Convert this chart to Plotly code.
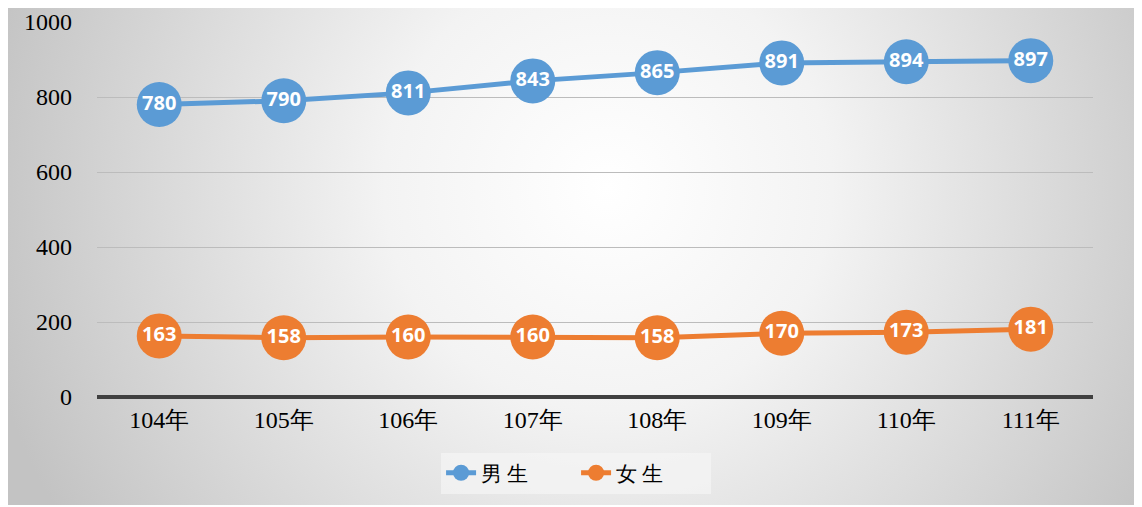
import base64
import plotly.graph_objects as go

years = ["104年", "105年", "106年", "107年", "108年", "109年", "110年", "111年"]
boys = [780, 790, 811, 843, 865, 891, 894, 897]
girls = [163, 158, 160, 160, 158, 170, 173, 181]

# page body adds an 8px offset, so the figure is a bit smaller than the window
W, H = 1134, 499
ML, MR, MT, MB = 89, 49, 14, 110
pw, ph = W - ML - MR, H - MT - MB

# radial gradient background like the office chart fill
svg = f"""<svg xmlns='http://www.w3.org/2000/svg' width='{W}' height='{H}'>
<defs><radialGradient id='g' gradientUnits='userSpaceOnUse' cx='600' cy='180' r='640'>
<stop offset='0' stop-color='#ffffff'/><stop offset='0.35' stop-color='#f3f3f3'/>
<stop offset='1' stop-color='#c3c3c3'/></radialGradient></defs>
<rect width='{W}' height='{H}' fill='url(#g)'/></svg>"""
bg = "data:image/svg+xml;base64," + base64.b64encode(svg.encode()).decode()

serif = "Liberation Serif, Times New Roman, DejaVu Serif, serif"

fig = go.Figure(layout=dict(width=W, height=H))

for name, vals, color in [("男 生", boys, "#5b9bd5"), ("女 生", girls, "#ed7d31")]:
    fig.add_trace(go.Scatter(
        x=years, y=vals, name=name,
        mode="lines+markers+text",
        line=dict(color=color, width=5),
        marker=dict(color=color, size=45, line=dict(width=0)),
        text=[str(v) for v in vals],
        textposition="middle center",
        textfont=dict(family="Open Sans", size=20, color="white", weight="bold"),
        cliponaxis=False,
    ))

fig.add_layout_image(dict(
    source=bg, xref="paper", yref="paper",
    x=-ML / pw, y=1 + MT / ph,
    sizex=W / pw, sizey=(H - 2) / ph,
    xanchor="left", yanchor="top", sizing="stretch", layer="below",
))

fig.update_layout(
    margin=dict(l=ML, r=MR, t=MT, b=MB, autoexpand=False),
    paper_bgcolor="white",
    plot_bgcolor="rgba(0,0,0,0)",
    font=dict(family=serif, color="black"),
    xaxis=dict(
        type="category", range=[-0.5, 7.5], automargin=False,
        showgrid=False, showline=False, zeroline=False,
        tickfont=dict(family=serif, size=24), ticks="", ticklabelstandoff=6,
    ),
    yaxis=dict(
        range=[0, 1000], tickvals=[0, 200, 400, 600, 800, 1000], automargin=False,
        showgrid=True, gridcolor="#bcbcbc", gridwidth=1,
        zeroline=True, zerolinecolor="#404040", zerolinewidth=4,
        showline=False, tickfont=dict(family=serif, size=24), ticklabelstandoff=24,
    ),
    legend=dict(
        orientation="h", x=0.481, xanchor="center", y=-0.203, yanchor="middle",
        bgcolor="rgba(245,245,245,0.7)", font=dict(family=serif, size=21),
        entrywidth=90, entrywidthmode="pixels",
    ),
)

fig.write_html("out.html")
